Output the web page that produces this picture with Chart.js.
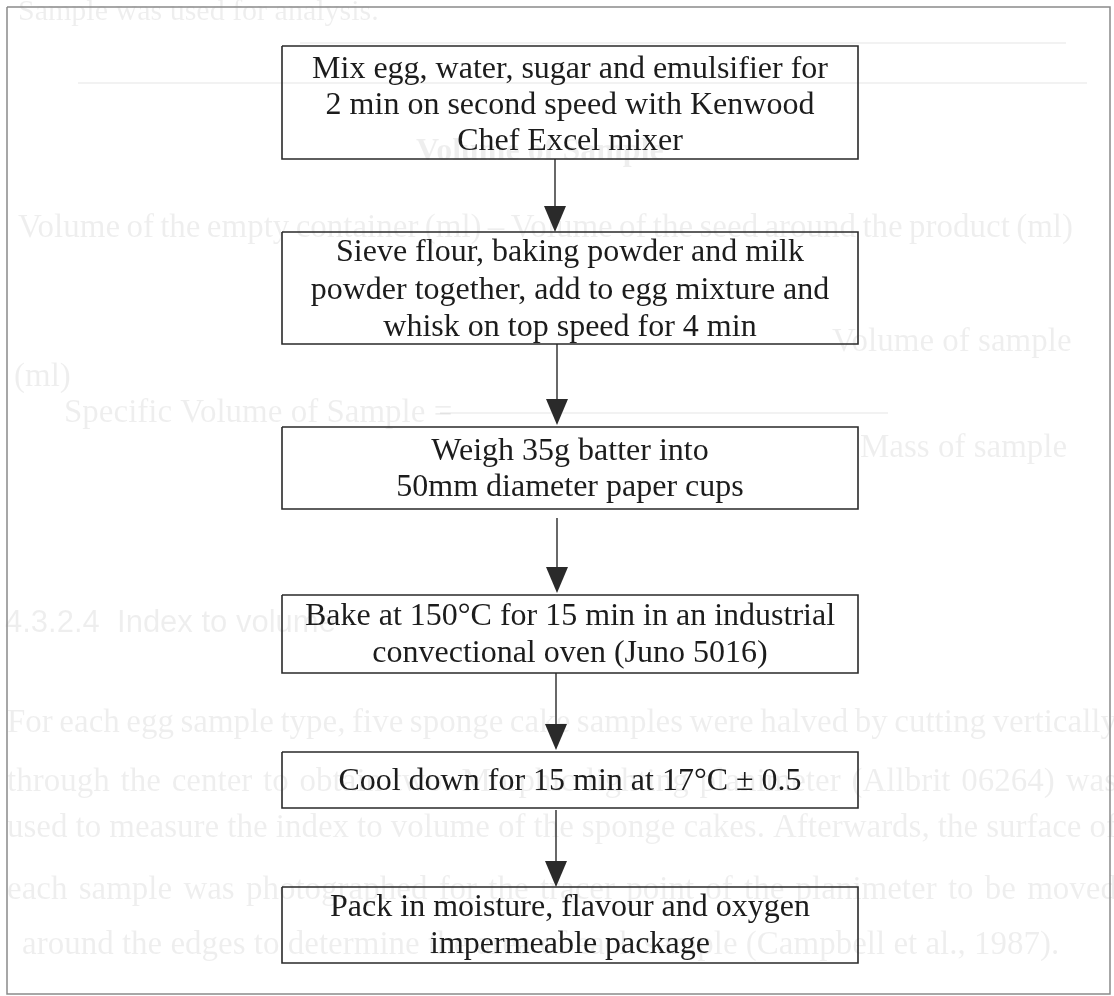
<!DOCTYPE html>
<html><head><meta charset="utf-8">
<script src="https://cdn.jsdelivr.net/npm/chart.js@4"></script>
<style>html,body{margin:0;padding:0;background:#fff}#wrap{width:1114px;height:996px;position:relative}</style>
</head><body><div id="wrap"><canvas id="c" width="1114" height="996"></canvas></div>
<script>
// ---- content (flowchart steps) ----
const step1 = ["Mix egg, water, sugar and emulsifier for", "2 min on second speed with Kenwood", "Chef Excel mixer"];
const step2 = ["Sieve flour, baking powder and milk", "powder together, add to egg mixture and", "whisk on top speed for 4 min"];
const step3 = ["Weigh 35g batter into", "50mm diameter paper cups"];
const step4 = ["Bake at 150\u00B0C for 15 min in an industrial", "convectional oven (Juno 5016)"];
const step5 = ["Cool down for 15 min at 17\u00B0C \u00B1 0.5"];
const step6 = ["Pack in moisture, flavour and oxygen", "impermeable package"];
const steps = [step1, step2, step3, step4, step5, step6];

// faint show-through text from the reverse page
const ghostLines = [
  "Sample was used for analysis.",
  "Volume of Sample",
  "Volume of the empty container (ml) \u2013 Volume of the seed around the product (ml)",
  "Volume of sample",
  "(ml)",
  "Specific Volume of Sample =",
  "Mass of sample",
  "4.3.2.4  Index to volume",
  "For each egg sample type, five sponge cake samples were halved by cutting vertically",
  "through the center to obtain two. Morphic lighting planimeter (Allbrit 06264) was",
  "used to measure the index to volume of the sponge cakes.  Afterwards, the surface of",
  "each sample was photographed for the tracer point of the planimeter to be moved",
  "around the edges to determine the area of each sample (Campbell et al., 1987)."
];

// ---- layout (data units = pixels of a 1114 x 996 page) ----
const L = {
  boxLeft: 282, boxRight: 858, textX: 570,
  boxTop:    [46, 232, 427, 595, 752, 887],
  boxBottom: [159, 344, 509, 673, 808, 963],
  lineY: [[70, 106, 142], [253, 291, 328], [452, 488], [617, 654], [782], [908, 945]],
  arrowX:    [555, 557, 557, 556, 556],
  arrowFrom: [159, 344, 518, 673, 810],
  arrowTo:   [232, 425, 593, 750, 887],
  headW: 22, headH: 26,
  frame: {l: 7, r: 1110, t: 7, b: 994},
  ghost: [
    {x: 18, y: 12, w: 0, size: 30},
    {x: 416, y: 152, w: 0, size: 32, bold: true},
    {x: 18, y: 228, w: 1055, size: 33},
    {x: 832, y: 342, w: 0, size: 33},
    {x: 14, y: 377, w: 0, size: 33},
    {x: 64, y: 413, w: 0, size: 33},
    {x: 860, y: 448, w: 0, size: 33},
    {x: 5, y: 623, w: 0, size: 31, sans: true},
    {x: 7, y: 723, w: 1110, size: 33},
    {x: 7, y: 782, w: 1110, size: 33},
    {x: 7, y: 828, w: 1110, size: 33},
    {x: 7, y: 890, w: 1110, size: 33},
    {x: 22, y: 945, w: 0, size: 33}
  ],
  ghostRules: [[300, 1066, 43], [78, 1087, 83], [440, 888, 413]]
};

const datasets = [];
// page frame
const f = L.frame;
datasets.push({data: [{x:f.l,y:f.t},{x:f.r,y:f.t},{x:f.r,y:f.b},{x:f.l,y:f.b},{x:f.l,y:f.t}],
  showLine: true, borderColor: '#8a8a8a', borderWidth: 1.5, pointRadius: 0, tension: 0, fill: false, clip: false});
// step boxes
steps.forEach((s, i) => {
  const t = L.boxTop[i], b = L.boxBottom[i], l = L.boxLeft, r = L.boxRight;
  datasets.push({data: [{x:l,y:t},{x:r,y:t},{x:r,y:b},{x:l,y:b},{x:l,y:t}],
    showLine: true, borderColor: '#2a2a2a', borderWidth: 1.6, pointRadius: 0, tension: 0, fill: false, clip: false});
});
// arrow shafts
L.arrowX.forEach((x, i) => {
  datasets.push({data: [{x:x, y:L.arrowFrom[i]}, {x:x, y:L.arrowTo[i] - L.headH + 2}],
    showLine: true, borderColor: '#2a2a2a', borderWidth: 1.4, pointRadius: 0, fill: false, clip: false});
});

function drawJustified(ctx, text, x, y, w) {
  if (!w) { ctx.textAlign = 'left'; ctx.fillText(text, x, y); return; }
  const words = text.split(/\s+/);
  const total = words.reduce((a, wd) => a + ctx.measureText(wd).width, 0);
  const gap = (w - total) / (words.length - 1);
  let cx = x;
  ctx.textAlign = 'left';
  words.forEach(wd => { ctx.fillText(wd, cx, y); cx += ctx.measureText(wd).width + gap; });
}

const flowPlugin = {
  id: 'flow',
  beforeDatasetsDraw(chart) {
    const {ctx, scales: {x: sx, y: sy}} = chart;
    ctx.save();
    ctx.fillStyle = 'rgba(0,0,0,0.065)';
    ctx.textBaseline = 'middle';
    ghostLines.forEach((t, i) => {
      const g = L.ghost[i];
      ctx.font = (g.bold ? 'bold ' : '') + g.size + "px " + (g.sans ? "'Liberation Sans'" : "'Liberation Serif'");
      drawJustified(ctx, t, sx.getPixelForValue(g.x), sy.getPixelForValue(g.y), g.w ? (sx.getPixelForValue(g.x + g.w) - sx.getPixelForValue(g.x)) : 0);
    });
    ctx.strokeStyle = 'rgba(0,0,0,0.05)';
    ctx.lineWidth = 2;
    L.ghostRules.forEach(([a, b, y]) => {
      ctx.beginPath();
      ctx.moveTo(sx.getPixelForValue(a), sy.getPixelForValue(y));
      ctx.lineTo(sx.getPixelForValue(b), sy.getPixelForValue(y));
      ctx.stroke();
    });
    ctx.restore();
  },
  afterDatasetsDraw(chart) {
    const {ctx, scales: {x: sx, y: sy}} = chart;
    ctx.save();
    // arrow heads
    ctx.fillStyle = '#2a2a2a';
    L.arrowX.forEach((x, i) => {
      const px = sx.getPixelForValue(x), tip = sy.getPixelForValue(L.arrowTo[i]);
      const base = sy.getPixelForValue(L.arrowTo[i] - L.headH);
      ctx.beginPath();
      ctx.moveTo(px, tip);
      ctx.lineTo(px - L.headW / 2, base);
      ctx.lineTo(px + L.headW / 2, base);
      ctx.closePath();
      ctx.fill();
    });
    // step labels
    ctx.fillStyle = '#1c1c1c';
    ctx.font = "32px 'Liberation Serif'";
    ctx.textAlign = 'center';
    ctx.textBaseline = 'middle';
    steps.forEach((s, i) => {
      s.forEach((line, j) => {
        ctx.fillText(line, sx.getPixelForValue(L.textX), sy.getPixelForValue(L.lineY[i][j]));
      });
    });
    ctx.restore();
  }
};

new Chart(document.getElementById('c'), {
  type: 'scatter',
  data: {datasets},
  options: {
    responsive: false, animation: false, events: [],
    layout: {padding: 0},
    plugins: {legend: {display: false}, tooltip: {enabled: false}},
    scales: {
      x: {type: 'linear', min: 0, max: 1114, display: false},
      y: {type: 'linear', min: 0, max: 996, reverse: true, display: false}
    }
  },
  plugins: [flowPlugin]
});
</script></body></html>
